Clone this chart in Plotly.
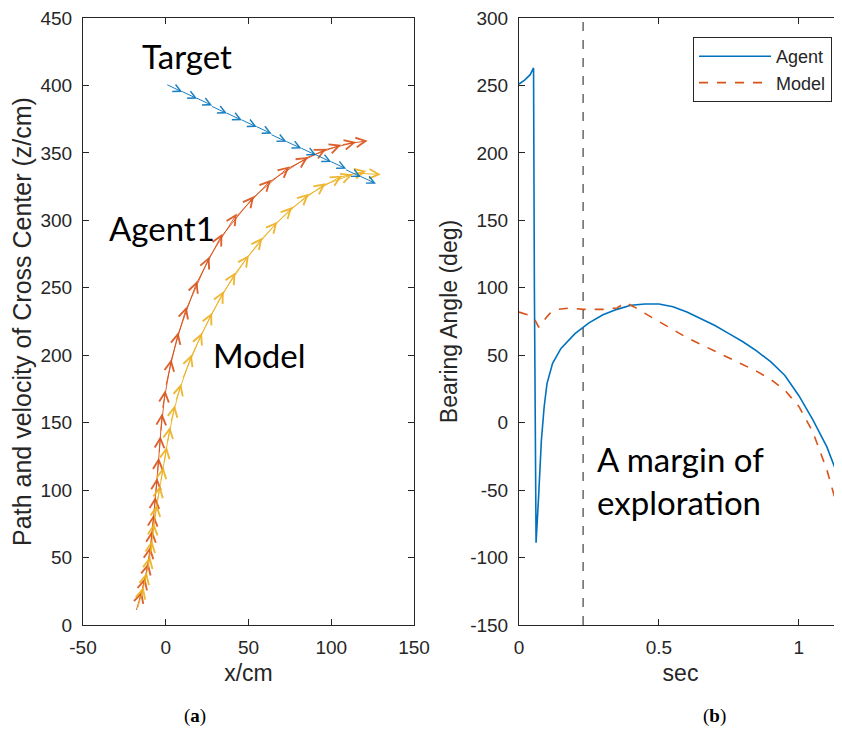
import plotly.graph_objects as go

# ---------------- data: panel (a) quiver ----------------
target_x = [0, 9, 18, 27, 36, 45, 54, 63, 72, 81, 90, 99, 108, 117]
target_z = [401, 396, 391, 385, 380, 375, 370, 364, 359, 354, 349, 344, 338, 333]
target_u = [10, 10, 10, 10, 10, 10, 10, 10, 10, 10, 10, 10, 10, 10]
target_w = [-5.8, -5.8, -5.8, -5.8, -5.8, -5.8, -5.8, -5.8, -5.8, -5.8, -5.8, -5.8, -5.8, -5.8]

agent_x = [-18, -16, -14, -12, -10, -9, -8, -7, -6, -5, -4, -3, -2, 0, 3, 7, 12, 18, 25, 33,
           42, 52, 62, 73, 84, 95, 106]
agent_z = [10, 18, 27, 37, 48, 60, 72, 85, 98, 112, 127, 143, 160, 177, 195, 214, 233, 252, 270,
           287, 302, 316, 328, 338, 346, 352, 356]
agent_u = [3.6, 3.6, 3.6, 2.7, 1.8, 1.8, 1.8, 1.8, 1.8, 1.8, 1.8, 2.7, 5.4, 7.6, 9.6, 12, 14.4,
           16.2, 18, 20.4, 21.6, 22.8, 24, 24, 22, 20, 16]
agent_w = [15, 17, 19, 21, 22, 22, 23, 24, 26, 28, 30, 31, 37, 40, 41, 41, 40, 38, 35, 31, 28,
           24, 19, 15, 10, 6, 3]

model_x = [-17, -15, -13, -11, -9, -8, -7, -5, -3, -1, 1, 3, 6, 10, 15, 21, 27, 34, 41, 49, 57,
           66, 75, 85, 95, 105, 114]
model_z = [12, 20, 30, 41, 53, 65, 78, 92, 106, 120, 135, 150, 166, 182, 198, 214, 229, 245, 259,
           272, 285, 297, 308, 318, 326, 332, 335]
model_u = [3.6, 3.6, 3.6, 2.7, 1.8, 2.7, 3.6, 3.6, 3.6, 3.6, 4.5, 6.3, 9.7, 11.9, 13, 14, 15.1,
           16.2, 17.3, 18.4, 19.4, 20.5, 21.6, 21.6, 18, 16.2, 16]
model_w = [16.2, 18.9, 20.7, 21.6, 22.5, 24.3, 25.2, 25.2, 26.1, 27, 27.9, 28.8, 34.6, 34.6, 33.5,
           33.5, 32.4, 29.2, 28.1, 27, 24.8, 22.7, 19.4, 15.1, 8.1, 4.5, -1]

# ---------------- data: panel (b) bearing angle ----------------
agent_t = [0, 0.02, 0.04, 0.052, 0.055, 0.058, 0.061, 0.07, 0.08, 0.09, 0.10, 0.12, 0.15, 0.2,
           0.25, 0.3, 0.35, 0.4, 0.45, 0.5, 0.55, 0.6, 0.65, 0.7, 0.75, 0.8, 0.85, 0.9, 0.95,
           1.0, 1.05, 1.1, 1.15, 1.2]
agent_ang = [251, 254, 258, 263, 100, -50, -89, -55, -13, 12, 29, 44, 55, 66, 74, 80, 84, 87, 88,
             88, 86, 82, 77, 72, 66, 60, 53, 45, 35, 20, 2, -18, -45, -78]

model_t = [0, 0.03, 0.055, 0.07, 0.08, 0.09, 0.11, 0.14, 0.18, 0.23, 0.3, 0.35, 0.38, 0.39, 0.41,
           0.45, 0.5, 0.55, 0.6, 0.65, 0.7, 0.75, 0.8, 0.85, 0.9, 0.95, 1.0, 1.05, 1.1, 1.13, 1.16]
model_ang = [82, 80, 77, 71, 72, 76, 81, 84, 85, 84, 84, 85, 89, 88, 86, 81, 75, 69, 63, 58, 53,
             48, 43, 38, 32, 24, 12, -7, -35, -57, -92]

margin_t = 0.229

# tick labels (hyphen minus, as in the reference)
xa_ticks = [-50, 0, 50, 100, 150]
xa_text = ["-50", "0", "50", "100", "150"]
ya_ticks = [0, 50, 100, 150, 200, 250, 300, 350, 400, 450]
ya_text = ["0", "50", "100", "150", "200", "250", "300", "350", "400", "450"]
xb_ticks = [0, 0.5, 1]
xb_text = ["0", "0.5", "1"]
yb_ticks = [-150, -100, -50, 0, 50, 100, 150, 200, 250, 300]
yb_text = ["-150", "-100", "-50", "0", "50", "100", "150", "200", "250", "300"]

# ---------------- layout helpers (page has an 8px body margin) ----------------
OFF = 8
W, H = 834, 718


def PX(x):
    return (x - OFF) / W


def PY(y):
    return (H - (y - OFF)) / H


C_BLUE = "#0072BD"
C_RED = "#D95319"
C_YEL = "#EDB120"
C_AX = "#262626"
TICKFONT = dict(family="Liberation Sans, Arial", size=19, color=C_AX)
TITLEFONT_L = dict(family="Liberation Sans, Arial", size=25, color=C_AX)
TITLEFONT = dict(family="Liberation Sans, Arial", size=23, color=C_AX)

fig = go.Figure()

# invisible carriers so the left axes exist
for xs, zs in [(target_x, target_z), (agent_x, agent_z), (model_x, model_z)]:
    fig.add_trace(go.Scatter(x=xs, y=zs, mode="markers", marker=dict(opacity=0),
                             showlegend=False, hoverinfo="skip", xaxis="x", yaxis="y"))

annotations = []


def quiver(xs, zs, us, ws, color, size):
    for x0, z0, u, w in zip(xs, zs, us, ws):
        annotations.append(dict(
            x=x0 + u, y=z0 + w, ax=x0, ay=z0,
            xref="x", yref="y", axref="x", ayref="y",
            text="", showarrow=True, arrowhead=5, arrowsize=size,
            arrowwidth=1.0, arrowcolor=color, standoff=0, startstandoff=0, opacity=0.9))


quiver(agent_x, agent_z, agent_u, agent_w, C_RED, 1.9)
quiver(model_x, model_z, model_u, model_w, C_YEL, 1.9)
quiver(target_x, target_z, target_u, target_w, C_BLUE, 1.5)

# panel (b) lines
fig.add_trace(go.Scatter(x=agent_t, y=agent_ang, mode="lines", name="Agent",
                         line=dict(color=C_BLUE, width=1.6), xaxis="x2", yaxis="y2"))
fig.add_trace(go.Scatter(x=model_t, y=model_ang, mode="lines", name="Model",
                         line=dict(color=C_RED, width=1.6, dash="dash"), xaxis="x2", yaxis="y2"))
fig.add_trace(go.Scatter(x=[margin_t, margin_t], y=[-150, 300], mode="lines", showlegend=False,
                         line=dict(color="#404040", width=1.2, dash="dash"),
                         hoverinfo="skip", xaxis="x2", yaxis="y2"))

TXT = dict(family="Lato, Noto Sans", size=33, color="black")
CAP = dict(family="Liberation Serif", size=19, color="black")
annotations += [
    dict(x=12.7, y=422, xref="x", yref="y", text="Target", showarrow=False, font=TXT,
         xanchor="center", yanchor="middle"),
    dict(x=-2.4, y=294, xref="x", yref="y", text="Agent1", showarrow=False, font=TXT,
         xanchor="center", yanchor="middle"),
    dict(x=56.8, y=200, xref="x", yref="y", text="Model", showarrow=False, font=TXT,
         xanchor="center", yanchor="middle"),
    dict(x=0.27, y=-43, xref="x2", yref="y2", text="A margin of<br>exploration",
         showarrow=False, font=TXT, xanchor="left", yanchor="middle", align="left"),
    dict(x=PX(195), y=PY(716), xref="paper", yref="paper", text="(<b>a</b>)",
         showarrow=False, font=CAP, xanchor="center", yanchor="middle"),
    dict(x=PX(714), y=PY(716), xref="paper", yref="paper", text="(<b>b</b>)",
         showarrow=False, font=CAP, xanchor="center", yanchor="middle"),
]

axis_common = dict(showgrid=False, zeroline=False, showline=True, linecolor=C_AX, linewidth=1,
                   ticks="inside", ticklen=6, tickcolor=C_AX, tickfont=TICKFONT,
                   automargin=False, ticklabeloverflow="allow")

fig.update_layout(
    width=W, height=H,
    margin=dict(l=0, r=0, t=0, b=0),
    paper_bgcolor="white", plot_bgcolor="white",
    xaxis=dict(domain=[PX(83), PX(414)], range=[-50, 150], tickvals=xa_ticks,
               ticktext=xa_text, mirror="ticks", ticklabelstandoff=5,
               title=dict(text="x/cm", font=TITLEFONT, standoff=8),
               anchor="y", **axis_common),
    yaxis=dict(domain=[PY(625), PY(18)], range=[0, 450], tickvals=ya_ticks,
               ticktext=ya_text, mirror="ticks", ticklabelstandoff=6,
               title=dict(text="Path and velocity of Cross Center (z/cm)", font=TITLEFONT_L,
                          standoff=5), anchor="x", **axis_common),
    xaxis2=dict(domain=[PX(519), 1], range=[0, 1.154], tickvals=xb_ticks, ticktext=xb_text,
                mirror="ticks", ticklabelstandoff=5,
                title=dict(text="sec", font=TITLEFONT, standoff=8),
                anchor="y2", **axis_common),
    yaxis2=dict(domain=[PY(625), PY(18)], range=[-150, 300], tickvals=yb_ticks,
                ticktext=yb_text, ticklabelstandoff=6,
                title=dict(text="Bearing Angle (deg)", font=TITLEFONT, standoff=6),
                anchor="x2", **axis_common),
    legend=dict(x=PX(832), y=PY(37), xanchor="right", yanchor="top",
                bordercolor=C_AX, borderwidth=1, bgcolor="white",
                font=dict(family="Liberation Sans, Arial", size=18, color=C_AX),
                itemwidth=72, tracegroupgap=0),
    annotations=annotations,
)

fig.write_html("out.html", default_width=f"{W}px", default_height=f"{H}px")
